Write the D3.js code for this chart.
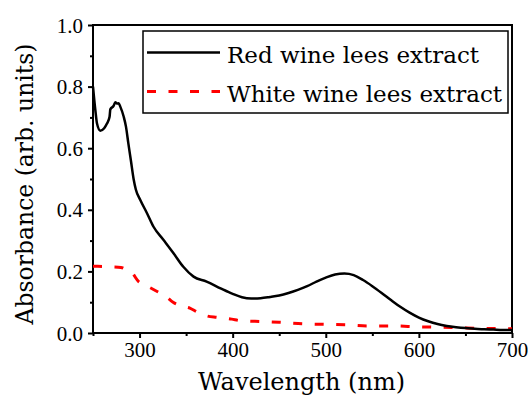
<!DOCTYPE html>
<html><head><meta charset="utf-8">
<script src="https://cdn.jsdelivr.net/npm/d3@7"></script>
<style>
html,body{margin:0;padding:0;background:#fff;}
svg{display:block;}
</style></head>
<body>
<svg id="chart" width="528" height="398"></svg>
<script>
// ---- data ----
const redWavelength = [250,252.5,254.3,257.8,262,265,267.8,268.6,272,274,275.7,277.5,279.3,283,285.4,288,290.7,293.6,296,300.8,308,315,325.8,336.5,347,358,372,387,400,410,420,430,440,450,460,470,480,490,500,510,520,530,540,550,560,570,580,590,600,610,620,630,640,650,660,670,680,690,700];
const redAbsorbance = [0.80,0.724,0.68,0.657,0.665,0.68,0.702,0.726,0.737,0.749,0.745,0.746,0.735,0.702,0.67,0.615,0.56,0.5,0.466,0.432,0.389,0.345,0.302,0.259,0.215,0.183,0.167,0.145,0.127,0.116,0.112,0.113,0.117,0.122,0.13,0.14,0.152,0.167,0.18,0.19,0.193,0.188,0.172,0.152,0.13,0.107,0.085,0.066,0.05,0.038,0.029,0.023,0.019,0.016,0.014,0.012,0.011,0.01,0.01];
const whiteWavelength = [250,260,270,280,285,292,299,305,312,320,328,336,345,354,362,373,383,399,408,424,450,475,500,525,545,570,600,635,670,700];
const whiteAbsorbance = [0.217,0.216,0.215,0.213,0.207,0.195,0.167,0.157,0.146,0.133,0.12,0.10,0.088,0.081,0.068,0.055,0.051,0.045,0.040,0.038,0.035,0.030,0.028,0.026,0.023,0.023,0.020,0.018,0.015,0.014];
const xTicks = [300,400,500,600,700];
const xMinorTicks = [250,350,450,550,650];
const yTicks = [0,0.2,0.4,0.6,0.8,1.0];
const yMinorTicks = [0.1,0.3,0.5,0.7,0.9];
const seriesNames = ["Red wine lees extract","White wine lees extract"];
const seriesColors = ["#000000","#ff0000"];

// ---- layout ----
const svg = d3.select("#chart");
const L = 93, R = 512, T = 25, B = 333;
const x = d3.scaleLinear().domain([250,700]).range([L,R]);
const y = d3.scaleLinear().domain([0,1]).range([B,T]);
const tickFont = "Liberation Serif";
const titleFont = "DejaVu Serif";

// frame
svg.append("rect").attr("x",L).attr("y",T).attr("width",R-L).attr("height",B-T)
  .attr("fill","none").attr("stroke","#000").attr("stroke-width",2);

// x axis
const gx = svg.append("g").attr("transform",`translate(0,${B})`);
gx.call(d3.axisBottom(x).tickValues(xTicks).tickSize(5).tickSizeOuter(0).tickFormat(d3.format("d")));
gx.append("g").call(d3.axisBottom(x).tickValues(xMinorTicks).tickSize(3).tickSizeOuter(0).tickFormat(""));
gx.selectAll(".domain").remove();
gx.attr("font-family",tickFont);
gx.selectAll("line").attr("stroke","#000").attr("stroke-width",2);
gx.selectAll("text").style("font-family",tickFont).attr("font-size",21).attr("fill","#000").attr("dy","0.72em").attr("y",9);

// y axis
const gy = svg.append("g").attr("transform",`translate(${L},0)`);
gy.call(d3.axisLeft(y).tickValues(yTicks).tickSize(5).tickSizeOuter(0).tickFormat(d3.format(".1f")));
gy.append("g").call(d3.axisLeft(y).tickValues(yMinorTicks).tickSize(3).tickSizeOuter(0).tickFormat(""));
gy.selectAll(".domain").remove();
gy.attr("font-family",tickFont);
gy.selectAll("line").attr("stroke","#000").attr("stroke-width",2);
gy.selectAll("text").style("font-family",tickFont).attr("font-size",21).attr("fill","#000").attr("x",-10).attr("dy","0.34em");

// titles
svg.append("text").attr("x",(L+R)/2 - 1).attr("y",390).attr("text-anchor","middle")
  .style("font-family",titleFont).attr("font-size",24).attr("fill","#000").text("Wavelength (nm)");
svg.append("text").attr("transform",`translate(33,${184}) rotate(-90)`).attr("text-anchor","middle")
  .style("font-family",titleFont).attr("font-size",23.5).attr("fill","#000").text("Absorbance (arb. units)");

// lines
const line = d3.line().x(d=>x(d[0])).y(d=>y(d[1])).curve(d3.curveMonotoneX);
const redData = d3.zip(redWavelength, redAbsorbance);
const whiteData = d3.zip(whiteWavelength, whiteAbsorbance);
svg.append("path").datum(whiteData).attr("d",line).attr("fill","none")
  .attr("stroke",seriesColors[1]).attr("stroke-width",3).attr("stroke-dasharray","9,12.5");
svg.append("path").datum(redData).attr("d",line).attr("fill","none")
  .attr("stroke",seriesColors[0]).attr("stroke-width",2.5).attr("stroke-linejoin","round");

// legend
const lg = svg.append("g");
lg.append("rect").attr("x",143).attr("y",31).attr("width",365).attr("height",82)
  .attr("fill","#fff").attr("stroke","#000").attr("stroke-width",1.5);
const legRows = [52.5, 91.5];
seriesNames.forEach((name,i)=>{
  lg.append("line").attr("x1",147).attr("x2",220).attr("y1",legRows[i]).attr("y2",legRows[i])
    .attr("stroke",seriesColors[i]).attr("stroke-width",i===0?2.5:3)
    .attr("stroke-dasharray",i===0?null:"9,12.5");
  lg.append("text").attr("x",227).attr("y",legRows[i]+10.5)
    .style("font-family",titleFont).attr("font-size",23).attr("fill","#000").text(name);
});
</script>
</body></html>
